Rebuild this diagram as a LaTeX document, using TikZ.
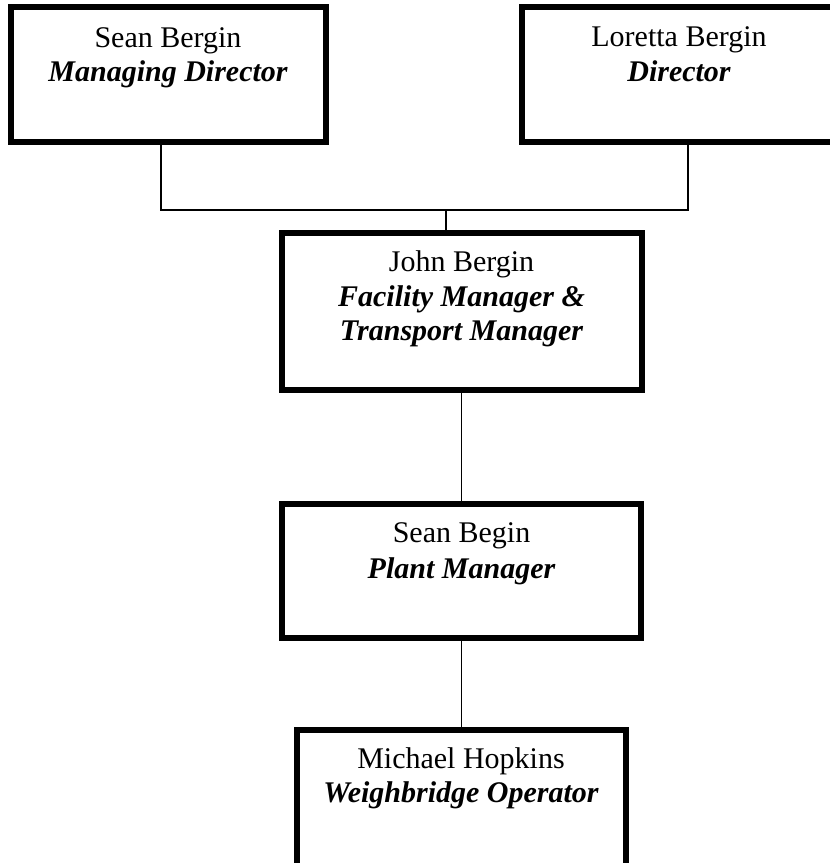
\documentclass[tikz,border=0pt]{standalone}
\usepackage{fontspec}
\setmainfont{Liberation Serif}
\begin{document}
\begin{tikzpicture}[x=1pt,y=-1pt,
  box/.style={draw, line width=6pt, inner sep=0pt},
  conn/.style={line width=1.8pt},
  txt/.style={anchor=base, inner sep=0pt, font=\fontsize{30}{34}\selectfont},
  ttl/.style={txt, font=\fontsize{30}{34}\selectfont\bfseries\itshape}]
\useasboundingbox (0,0) rectangle (830,863);
\clip (0,0) rectangle (830,863);
% boxes
\node[box, minimum width=315pt, minimum height=135pt] (md) at (168.5,74.5) {};
\node[box, minimum width=314pt, minimum height=135pt] (ld) at (679,74.5) {};
\node[box, minimum width=360pt, minimum height=157pt] (jb) at (461.5,311.5) {};
\node[box, minimum width=359pt, minimum height=134pt] (pm) at (461.5,571) {};
\node[box, minimum width=329pt, minimum height=170pt] (wo) at (461,815) {};
% texts
\node[txt] (mdn) at (168,47) {Sean Bergin};
\node[ttl] (mdt) at (168,81) {Managing Director};
\node[txt] (ldn) at (679,46) {Loretta Bergin};
\node[ttl] (ldt) at (679,81) {Director};
\node[txt] (jbn) at (461.5,271) {John Bergin};
\node[ttl] (jbt1) at (461.5,306) {Facility Manager \&};
\node[ttl] (jbt2) at (461.5,340) {Transport Manager};
\node[txt] (pmn) at (461.5,542) {Sean Begin};
\node[ttl] (pmt) at (461.5,578) {Plant Manager};
\node[txt] (won) at (461,768) {Michael Hopkins};
\node[ttl] (wot) at (461,802) {Weighbridge Operator};
% connectors
\coordinate (bl) at (161,210);
\coordinate (br) at (688,210);
\coordinate (bm) at (446,210);
\draw[conn] (md.south -| bl) -- (bl) -- (br) -- (ld.south -| br);
\draw[conn] (bm) -- (bm |- jb.north);
\draw[conn] (jb.south) -- (jb.south |- pm.north);
\draw[conn] (pm.south) -- (pm.south |- wo.north);
\end{tikzpicture}
\end{document}
